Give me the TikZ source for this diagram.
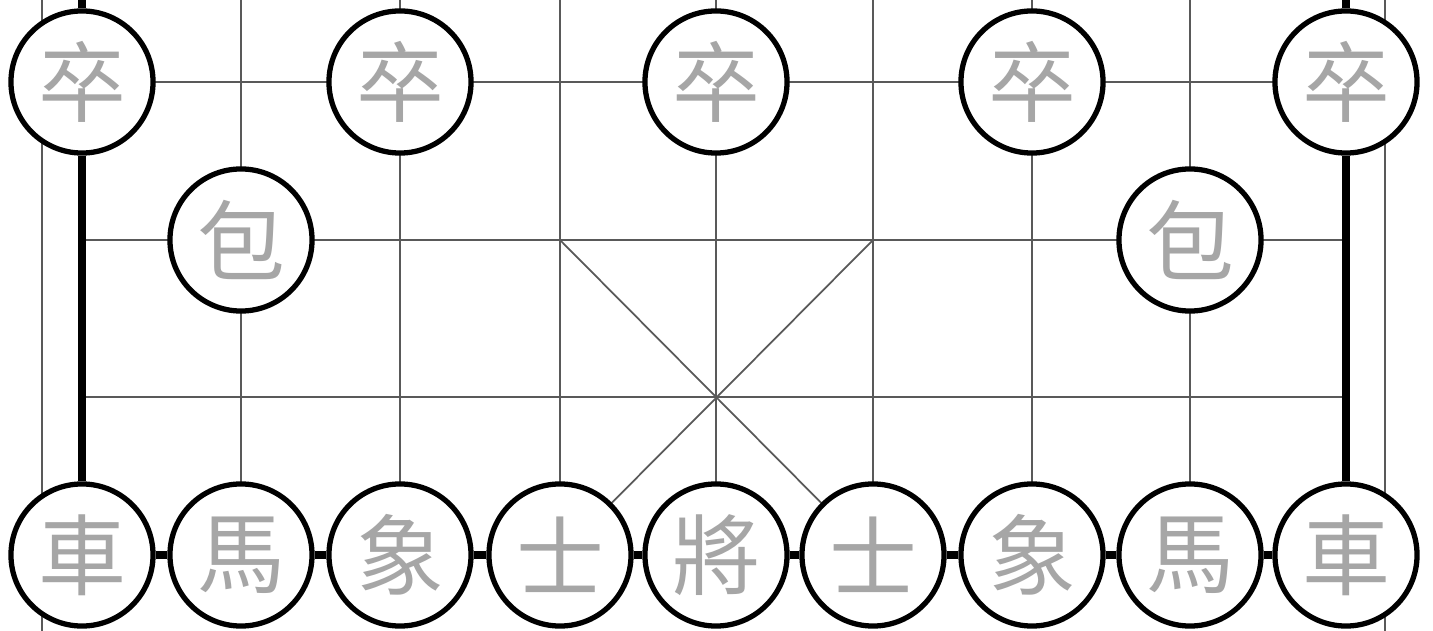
\documentclass[tikz,border=0pt]{standalone}
\usepackage{fontspec}
\newfontfamily\cjk{Noto Sans CJK TC}
\usepackage{tikz}

\begin{document}
\begin{tikzpicture}[
  x=0.01cm, y=-0.01cm,
  piece/.style={circle, draw, line width=1.5pt, fill=white, minimum size=1.42cm, inner sep=0pt, text=black!35, font=\cjk\fontsize{25}{25}\selectfont},
  gridline/.style={line width=0.5pt, black!65},
  rookline/.style={line width=2.2pt}
]
\useasboundingbox (0,0) rectangle (1433,631);
% board lines
\draw[gridline] (42,0) -- (42,631);
\draw[gridline] (1385,0) -- (1385,631);
\draw[gridline] (241,0) -- (241,555);
\draw[gridline] (400,0) -- (400,555);
\draw[gridline] (560,0) -- (560,555);
\draw[gridline] (716,0) -- (716,555);
\draw[gridline] (873,0) -- (873,555);
\draw[gridline] (1032,0) -- (1032,555);
\draw[gridline] (1190,0) -- (1190,555);
\draw[gridline] (82,82) -- (1346,82);
\draw[gridline] (82,240) -- (1346,240);
\draw[gridline] (82,397) -- (1346,397);
\draw[gridline] (560,240) -- (873,555);
\draw[gridline] (873,240) -- (560,555);
% pieces
\coordinate (top1) at (82,0);
\coordinate (top2) at (1346,0);
\node[piece] (p1) at (82,82) {卒};
\node[piece] (p2) at (400,82) {卒};
\node[piece] (p3) at (716,82) {卒};
\node[piece] (p4) at (1032,82) {卒};
\node[piece] (p5) at (1346,82) {卒};
\node[piece] (c1) at (241,240) {包};
\node[piece] (c2) at (1190,240) {包};
\node[piece] (r1) at (82,555) {車};
\node[piece] (h1) at (241,555) {馬};
\node[piece] (e1) at (400,555) {象};
\node[piece] (a1) at (560,555) {士};
\node[piece] (k) at (716,555) {將};
\node[piece] (a2) at (873,555) {士};
\node[piece] (e2) at (1032,555) {象};
\node[piece] (h2) at (1190,555) {馬};
\node[piece] (r2) at (1346,555) {車};
% rook files and back rank
\draw[rookline] (top1) -- (p1);
\draw[rookline] (p1) -- (r1);
\draw[rookline] (top2) -- (p5);
\draw[rookline] (p5) -- (r2);
\draw[rookline] (r1) -- (h1);
\draw[rookline] (h1) -- (e1);
\draw[rookline] (e1) -- (a1);
\draw[rookline] (a1) -- (k);
\draw[rookline] (k) -- (a2);
\draw[rookline] (a2) -- (e2);
\draw[rookline] (e2) -- (h2);
\draw[rookline] (h2) -- (r2);
\end{tikzpicture}
\end{document}
